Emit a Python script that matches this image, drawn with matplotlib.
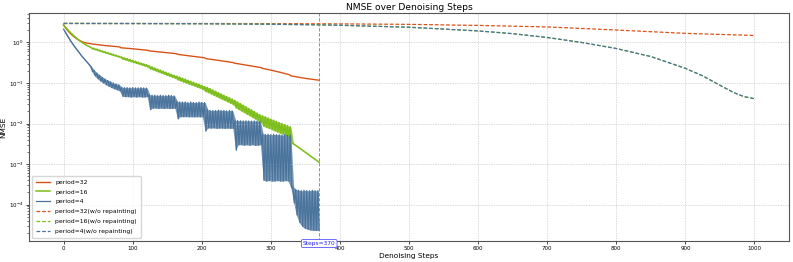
import matplotlib
matplotlib.use("Agg")
import matplotlib.pyplot as plt
import numpy as np

# solid curves: value at even steps 4k (hi) and 4k+2 (lo)
blue_hi = [2.13, 1.62, 1.25, 0.98, 0.79, 0.64, 0.52, 0.43, 0.36, 0.30, 0.25,
           0.205, 0.175, 0.155, 0.138, 0.125, 0.115, 0.107, 0.100, 0.095, 0.090,
           0.078, 0.077, 0.077, 0.076, 0.077, 0.076, 0.076, 0.077, 0.076, 0.075,
           0.051, 0.050, 0.050, 0.049, 0.050, 0.049, 0.049, 0.050, 0.049, 0.048,
           0.035, 0.034, 0.034, 0.034, 0.033, 0.034, 0.033, 0.033, 0.034, 0.033, 0.033,
           0.022, 0.021, 0.021, 0.021, 0.0215, 0.021, 0.021, 0.0205, 0.021, 0.0205,
           0.012, 0.0118, 0.0117, 0.0116, 0.0117, 0.0116, 0.0115, 0.0116, 0.0115, 0.0114,
           0.0055, 0.0054, 0.0054, 0.0053, 0.0054, 0.0053, 0.0053, 0.0052, 0.0053, 0.0052, 0.0052,
           2.7e-4, 2.35e-4, 2.25e-4, 2.2e-4, 2.25e-4, 2.2e-4, 2.2e-4, 2.25e-4, 2.2e-4, 2.2e-4]
blue_lo = [1.85, 1.42, 1.10, 0.88, 0.71, 0.58, 0.47, 0.39, 0.33, 0.27,
           0.19, 0.15, 0.128, 0.112, 0.100, 0.091, 0.083, 0.077, 0.072, 0.068, 0.064,
           0.047, 0.046, 0.046, 0.045, 0.046, 0.045, 0.046, 0.045, 0.045, 0.046,
           0.022, 0.024, 0.024, 0.0235, 0.024, 0.0235, 0.024, 0.0235, 0.0235, 0.024,
           0.013, 0.0148, 0.0147, 0.0148, 0.0146, 0.0147, 0.0146, 0.0147, 0.0146, 0.0145,
           0.0065, 0.0078, 0.0077, 0.0078, 0.0076, 0.0077, 0.0077, 0.0076, 0.0077, 0.0076, 0.0076,
           0.0022, 0.0030, 0.0030, 0.0029, 0.0030, 0.0029, 0.0030, 0.0029, 0.0029, 0.0030,
           4.0e-4, 3.8e-4, 3.9e-4, 3.8e-4, 3.8e-4, 3.9e-4, 3.8e-4, 3.8e-4, 3.9e-4, 3.8e-4,
           2.6e-4, 1.1e-4, 5.5e-5, 3.6e-5, 2.9e-5, 2.6e-5, 2.45e-5, 2.35e-5, 2.3e-5, 2.3e-5, 2.3e-5]

green_hi = [2.67, 2.25, 1.90, 1.62, 1.40, 1.22, 1.08, 0.97, 0.88, 0.81, 0.75,
            0.72, 0.685, 0.652, 0.62, 0.59, 0.56, 0.535, 0.51, 0.485, 0.46,
            0.44, 0.419, 0.399, 0.38, 0.362, 0.344, 0.328, 0.312, 0.297, 0.283,
            0.265, 0.25, 0.235, 0.221, 0.208, 0.196, 0.185, 0.174, 0.164, 0.155,
            0.148, 0.14, 0.132, 0.124, 0.117, 0.11, 0.104, 0.098, 0.093, 0.087, 0.082,
            0.078, 0.0724, 0.0672, 0.0624, 0.0579, 0.0537, 0.0498, 0.0463, 0.043, 0.040,
            0.037, 0.0338, 0.0309, 0.0283, 0.0258, 0.0236, 0.0216, 0.0197, 0.018, 0.0165,
            0.0155, 0.0146, 0.0137, 0.0128, 0.0121, 0.0113, 0.0106, 0.0100, 0.0094, 0.0088, 0.0083,
            0.0032, 0.0029, 0.0026, 0.00232, 0.00206, 0.00184, 0.00164, 0.00147, 0.00131, 0.00117]
green_lo = [2.45, 2.06, 1.75, 1.50, 1.30, 1.15, 1.02, 0.92, 0.84, 0.78,
            0.70, 0.665, 0.632, 0.60, 0.573, 0.545, 0.52, 0.495, 0.472, 0.45, 0.43,
            0.39, 0.372, 0.354, 0.337, 0.321, 0.305, 0.291, 0.277, 0.263, 0.25,
            0.224, 0.211, 0.199, 0.187, 0.176, 0.166, 0.156, 0.147, 0.139, 0.131,
            0.12, 0.113, 0.106, 0.100, 0.094, 0.089, 0.084, 0.079, 0.075, 0.070,
            0.062, 0.058, 0.0537, 0.0498, 0.0462, 0.0429, 0.0398, 0.037, 0.0343, 0.0318, 0.0295,
            0.0244, 0.0223, 0.0204, 0.0186, 0.017, 0.0156, 0.0142, 0.013, 0.0119, 0.0108,
            0.0086, 0.0080, 0.0076, 0.0071, 0.0066, 0.0062, 0.0058, 0.0055, 0.0051, 0.0048,
            0.0034, 0.00305, 0.00275, 0.00245, 0.00219, 0.00195, 0.00174, 0.00155, 0.00139, 0.00124, 0.0011]

red_steps = [0, 5, 10, 15, 20, 25, 30, 35, 41, 60, 81, 83, 100, 122, 124, 145, 163, 165,
             185, 204, 206, 225, 245, 247, 265, 286, 288, 310, 327, 329, 350, 370]
red_vals = [2.7, 2.05, 1.65, 1.38, 1.2, 1.08, 1.0, 0.96, 0.92, 0.84, 0.78, 0.74, 0.70, 0.64,
            0.62, 0.57, 0.53, 0.51, 0.46, 0.42, 0.40, 0.36, 0.32, 0.31, 0.275, 0.24, 0.23,
            0.19, 0.16, 0.15, 0.13, 0.117]

dash32_steps = [0, 100, 200, 300, 400, 500, 600, 700, 800, 900, 1000]
dash32_vals = [2.95, 2.95, 2.94, 2.92, 2.88, 2.80, 2.64, 2.42, 2.03, 1.68, 1.49]
dash4_steps = [0, 100, 200, 300, 370, 400, 500, 600, 650, 700, 750, 800, 850, 900,
               925, 950, 970, 985, 1000]
dash4_vals = [2.95, 2.93, 2.90, 2.82, 2.72, 2.66, 2.38, 1.93, 1.65, 1.33, 1.0, 0.71,
              0.45, 0.23, 0.15, 0.088, 0.058, 0.046, 0.041]
dash16_vals = dash4_vals

c_red = '#D95319'
c_green = '#7CBF1A'
c_blue = '#4A739C'


def zigzag(hi, lo):
    x = np.zeros(len(hi) + len(lo))
    y = np.zeros(len(hi) + len(lo))
    x[0::2] = np.arange(len(hi)) * 4
    x[1::2] = np.arange(len(lo)) * 4 + 2
    y[0::2] = hi
    y[1::2] = lo
    return x, y


def band(ax, hi, lo, color):
    # shaded envelope so the fast oscillation reads as a solid band
    n = min(len(hi), len(lo))
    x = np.arange(n) * 4 + 1
    ax.fill_between(x, hi[:n], lo[:n], color=color, alpha=0.75, lw=0)


fig = plt.figure(figsize=(7.93, 2.62), dpi=100)
ax = fig.add_axes([0.0366, 0.081, 0.9584, 0.869])

ax.plot(red_steps, red_vals, '-', color=c_red, lw=1.0, label='period=32')
gx, gy = zigzag(green_hi, green_lo)
band(ax, green_hi, green_lo, c_green)
ax.plot(gx, gy, '-', color=c_green, lw=1.1, label='period=16')
bx, by = zigzag(blue_hi, blue_lo)
band(ax, blue_hi, blue_lo, c_blue)
ax.plot(bx, by, '-', color=c_blue, lw=0.9, label='period=4')
ax.plot(dash32_steps, dash32_vals, '--', color=c_red, lw=0.9, dashes=(3, 1.5),
        label='period=32(w/o repainting)')
ax.plot(dash4_steps, dash16_vals, '--', color=c_green, lw=0.9, dashes=(3, 1.5),
        label='period=16(w/o repainting)')
ax.plot(dash4_steps, dash4_vals, '--', color=c_blue, lw=0.9, dashes=(3, 1.5),
        label='period=4(w/o repainting)')

ax.set_yscale('log')
ax.set_xticks(range(0, 1001, 100))
ax.axvline(370, color='grey', ls='--', lw=0.6, dashes=(4, 2))
ax.annotate('Steps=370', xy=(370, -0.012), xycoords=('data', 'axes fraction'),
            ha='center', va='center', fontsize=4.2, color='#2222ee',
            bbox=dict(boxstyle='round,pad=0.25', fc='white', ec='#5555ff', lw=0.6))

ax.grid(True, color='#cccccc', ls='--', lw=0.5, dashes=(2, 1.5))
ax.tick_params(labelsize=4, length=2, width=0.5, pad=2)
ax.tick_params(which='minor', length=1.2, width=0.4)
for s in ax.spines.values():
    s.set_color('#555555')
    s.set_linewidth(0.8)

ax.set_title('NMSE over Denoising Steps', fontsize=6.6, pad=2)
ax.set_xlabel('Denoising Steps', fontsize=5.3, labelpad=1)
ax.set_ylabel('NMSE', fontsize=5.3, labelpad=2)
ax.legend(loc='lower left', fontsize=4.4, handlelength=2.4, borderpad=0.6,
          labelspacing=0.75, framealpha=0.8, edgecolor='#cccccc')

fig.savefig('out.png', dpi=100)
